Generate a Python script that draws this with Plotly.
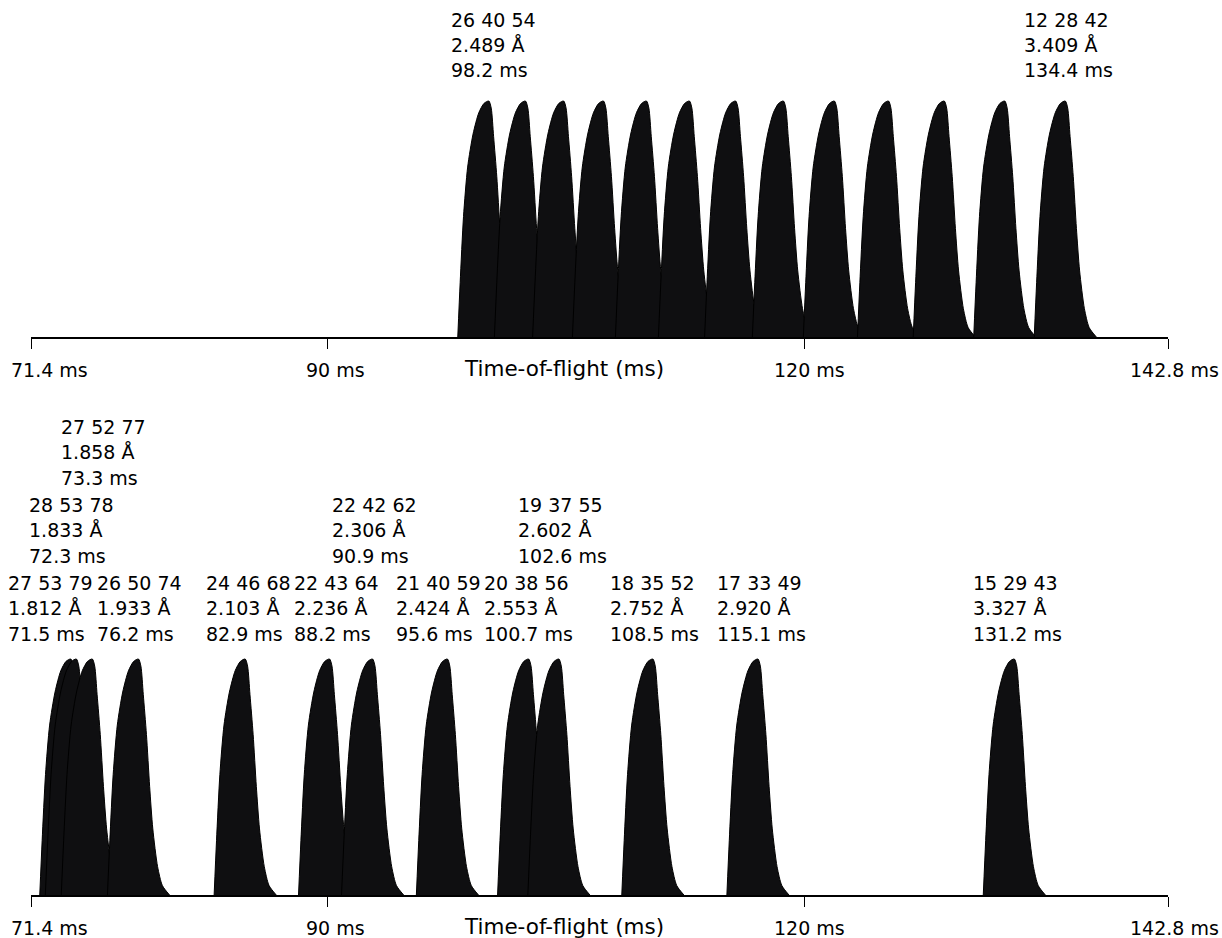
import plotly.graph_objects as go

# ---------------- data ----------------
# normalised peak profile (ms after onset, relative height)
profile_dt = [0, 0.15, 0.36, 0.62, 0.96, 1.32, 1.65, 1.95, 2.10, 2.25, 2.45, 2.65, 2.85, 3.15, 3.45, 3.90]
profile_h = [0, 0.23, 0.51, 0.72, 0.86, 0.95, 0.99, 1.00, 0.97, 0.85, 0.68, 0.46, 0.28, 0.12, 0.04, 0]
crest_dt = 1.95

# top panel: peak onsets (ms)
top_onset_ms = [98.2, 100.5, 102.9, 105.4, 108.1, 110.8, 113.7, 116.7, 119.9, 123.3, 126.8, 130.6, 134.4]
top_hkl = ["26 40 54", "", "", "", "", "", "", "", "", "", "", "", "12 28 42"]
top_d = ["2.489 Å", "", "", "", "", "", "", "", "", "", "", "", "3.409 Å"]
top_tof = ["98.2 ms", "", "", "", "", "", "", "", "", "", "", "", "134.4 ms"]

# bottom panel
bot_onset_ms = [71.95, 72.3, 73.3, 76.2, 82.9, 88.2, 90.9, 95.6, 100.7, 102.6, 108.5, 115.1, 131.2]
bot_hkl = ["27 53 79", "28 53 78", "27 52 77", "26 50 74", "24 46 68", "22 43 64", "22 42 62",
           "21 40 59", "20 38 56", "19 37 55", "18 35 52", "17 33 49", "15 29 43"]
bot_d = ["1.812 Å", "1.833 Å", "1.858 Å", "1.933 Å", "2.103 Å", "2.236 Å", "2.306 Å",
         "2.424 Å", "2.553 Å", "2.602 Å", "2.752 Å", "2.920 Å", "3.327 Å"]
bot_tof = ["71.5 ms", "72.3 ms", "73.3 ms", "76.2 ms", "82.9 ms", "88.2 ms", "90.9 ms",
           "95.6 ms", "100.7 ms", "102.6 ms", "108.5 ms", "115.1 ms", "131.2 ms"]

tick_vals = [71.4, 90, 120, 142.8]
tick_text = ["71.4 ms", "90 ms", "120 ms", "142.8 ms"]
axis_title = "Time-of-flight (ms)"
axis_title_at = 105.0

# ---------------- layout helpers (styling only) ----------------
LEFT_OFF = -43                      # label block left edge relative to crest (px)
top_label_shift = [3, 0, 0, 0, 0, 0, 0, 0, 0, 0, 0, 0, 0]
bot_label_level = [0, 1, 2, 0, 0, 0, 1, 0, 0, 1, 0, 0, 0]
bot_label_shift = [-22, -6, 10, 0, 2, 5, 0, -10, -4, 0, -2, 0, 0]
tick_label_shift = [18.5, 8, 4.5, 6]

TOP_ROWS = [81, 56, 31]             # px above crest for the 3 label lines
BOT_ROWS = [76.5, 51, 25.5]
LEVEL_PX = 78

FONT = "DejaVu Sans"
FSIZE = 19
FILL = "#0f0f11"
W, H = 1222, 938

fig = go.Figure()


def add_peaks(onsets, xa, ya):
    for t0 in onsets:
        fig.add_trace(go.Scatter(
            x=[t0 + d for d in profile_dt], y=profile_h,
            mode="lines", line=dict(color="black", width=1, shape="spline", smoothing=0.7),
            fill="tozeroy", fillcolor=FILL, xaxis=xa, yaxis=ya,
            hoverinfo="skip", showlegend=False))


add_peaks(top_onset_ms, "x", "y")
add_peaks(bot_onset_ms, "x2", "y2")

ann = []


def label(xref, yref, x, lines, rows, xshift, level_shift):
    for txt, r in zip(lines, rows):
        ann.append(dict(x=x, y=1, xref=xref, yref=yref, xanchor="left", yanchor="middle",
                        showarrow=False, xshift=LEFT_OFF + xshift, yshift=r + level_shift,
                        text=txt, font=dict(family=FONT, size=FSIZE, color="black")))


for i, t0 in enumerate(top_onset_ms):
    if top_hkl[i]:
        label("x", "y", t0 + crest_dt, [top_hkl[i], top_d[i], top_tof[i]], TOP_ROWS,
              top_label_shift[i], 0)
for i, t0 in enumerate(bot_onset_ms):
    label("x2", "y2", t0 + crest_dt, [bot_hkl[i], bot_d[i], bot_tof[i]], BOT_ROWS,
          bot_label_shift[i], LEVEL_PX * bot_label_level[i])

# tick labels and axis titles on the same line under each axis
for xr, yr in (("x", "y"), ("x2", "y2")):
    for v, t, s in zip(tick_vals, tick_text, tick_label_shift):
        ann.append(dict(x=v, y=0, xref=xr, yref=yr, xanchor="center", yanchor="middle",
                        showarrow=False, xshift=s, yshift=-33, text=t,
                        font=dict(family=FONT, size=FSIZE, color="black")))
    ann.append(dict(x=axis_title_at, y=0, xref=xr, yref=yr, xanchor="center", yanchor="middle",
                    showarrow=False, xshift=-2, yshift=-31, text=axis_title,
                    font=dict(family=FONT, size=21.5, color="black")))

YR = [0, 1.02]
top_dom = [1 - 337 / H, 1 - (337 - 236 * 1.02) / H]
bot_dom = [1 - 895 / H, 1 - (895 - 236 * 1.02) / H]

xaxis_common = dict(range=[71.4, 142.8], showgrid=False, zeroline=False, showline=True,
                    linecolor="black", linewidth=1.5, ticks="outside", ticklen=10, tickwidth=1.2,
                    tickcolor="black", tickvals=tick_vals, showticklabels=False, fixedrange=True)
yaxis_common = dict(range=YR, visible=False, showgrid=False, zeroline=False, fixedrange=True)

fig.update_layout(
    width=W, height=H,
    margin=dict(l=31, r=54, t=0, b=0),
    paper_bgcolor="white", plot_bgcolor="white",
    xaxis=dict(**xaxis_common, anchor="y"),
    yaxis=dict(**yaxis_common, domain=top_dom),
    xaxis2=dict(**xaxis_common, anchor="y2"),
    yaxis2=dict(**yaxis_common, domain=bot_dom),
    annotations=ann,
    showlegend=False,
)

fig.write_html("out.html")
